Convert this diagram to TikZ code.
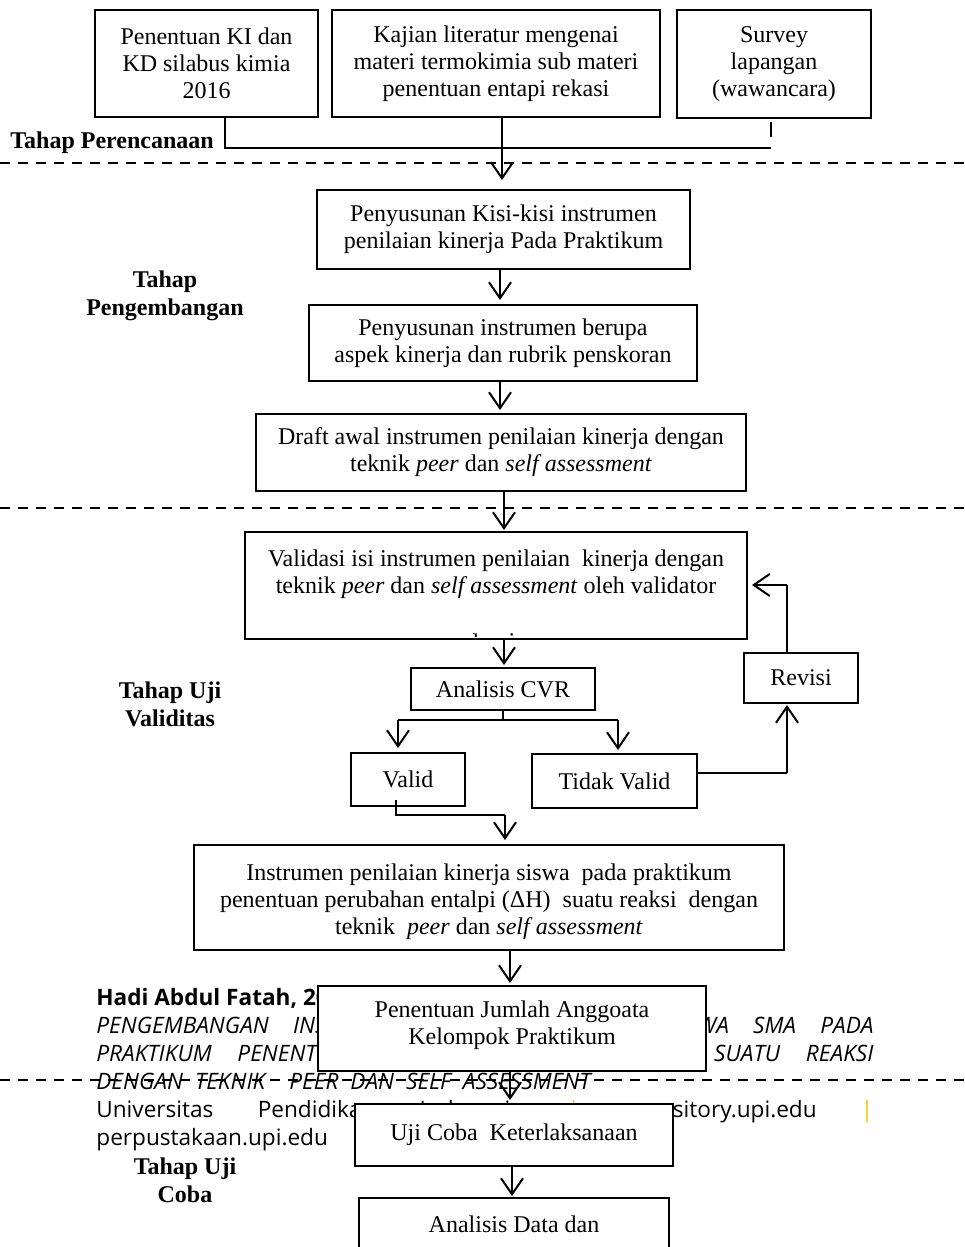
\documentclass[tikz,border=0pt]{standalone}
\usepackage{fontspec}
\setmainfont{Liberation Serif}
\newfontfamily\ftr{Open Sans}
\usetikzlibrary{arrows.meta,calc}
\definecolor{gold}{RGB}{255,192,0}
\newcommand\bx[7]{%
  \node[box,#6,minimum width={(#4-#2)*0.5pt},minimum height={(#5-#3)*0.5pt}] (#1) at ({(#2+#4)/2},{(#3+#5)/2}) {#7};}
\tikzset{
  box/.style={draw,line width=1pt,fill=white,inner sep=0pt,align=center,font=\fontsize{12}{13.5}\selectfont},
  txt/.style={inner sep=0pt,align=center,font=\fontsize{12}{13.5}\selectfont},
  lbl/.style={inner sep=0pt,align=center,font=\fontsize{12}{14}\selectfont\bfseries},
  conn/.style={line width=1pt},
  arr/.style={line width=1pt,-{Straight Barb[length=8pt,width=11pt,line width=1pt]}},
  sep/.style={line width=1pt,dash pattern=on 5pt off 4pt},
  foot/.style={inner sep=0pt,anchor=base west,font=\ftr\fontsize{11.3}{14}\selectfont}
}
\begin{document}
\begin{tikzpicture}[x=0.5pt,y=-0.5pt]
\useasboundingbox (0,0) rectangle (964,1247);
\fill[white] (0,0) rectangle (964,1247);

% footer text (drawn first, covered by boxes)
\node[foot] (f1) at (96,1005) {\bfseries Hadi Abdul Fatah, 2017};
\node[foot] (f2) at (96,1033) {\makebox[388.5pt][s]{\itshape PENGEMBANGAN INSTRUMEN PENILAIAN KINERJA SISWA SMA PADA}};
\node[foot] (f3) at (96,1061) {\makebox[388.5pt][s]{\itshape PRAKTIKUM PENENTUAN PERUBAHAN ENTALPI ($\Delta$H) SUATU REAKSI}};
\node[foot] (f4) at (96,1089) {\makebox[247pt][s]{\itshape DENGAN TEKNIK \ PEER DAN SELF ASSESSMENT}};
\node[foot] (f5) at (96,1117) {\makebox[388.5pt][s]{Universitas Pendidikan Indonesia {\color{gold}|} repository.upi.edu {\color{gold}|}}};
\node[foot] (f6) at (96,1145) {perpustakaan.upi.edu};

% dashed separators
\coordinate (s1a) at (0,163); \coordinate (s1b) at (964,163);
\coordinate (s2a) at (0,508); \coordinate (s2b) at (964,508);
\coordinate (s3a) at (0,1080); \coordinate (s3b) at (964,1080);
\draw[sep] (s1a) -- (s1b);
\draw[sep] (s2a) -- (s2b);
\draw[sep] (s3a) -- (s3b);

% stage labels
\node[lbl,anchor=west] (t1) at (10,143) {Tahap Perencanaan};
\node[lbl] (t2) at (165,296) {Tahap\\Pengembangan};
\node[lbl] (t3) at (170,704.5) {Tahap Uji\\Validitas};
\node[lbl] (t4) at (185,1180) {Tahap Uji\\Coba};

% boxes
\bx{A}{95}{10}{318}{117}{}{Penentuan KI dan\\KD silabus kimia\\2016}
\bx{B}{332}{10}{660}{117}{}{Kajian literatur mengenai\\materi termokimia sub materi\\penentuan entapi rekasi}
\bx{C}{677}{10}{871}{118}{}{Survey\\lapangan\\(wawancara)}
\bx{D}{317}{190}{690}{269}{}{Penyusunan Kisi-kisi instrumen\\penilaian kinerja Pada Praktikum}
\bx{E}{309}{305}{697}{381}{}{Penyusunan instrumen berupa\\aspek kinerja dan rubrik penskoran}
\bx{F}{256}{414}{746}{491}{}{Draft awal instrumen penilaian kinerja dengan\\teknik \textit{peer} dan \textit{self assessment}}
\bx{G}{245}{532}{747}{639}{}{}
\node[txt] (Gt) at (496,574) {Validasi isi instrumen penilaian\ \ kinerja dengan\\teknik \textit{peer} dan \textit{self assessment} oleh validator};
\begin{scope}
\clip (250,600) rectangle (740,636);
\node[txt] (Gf1) at (476,642) {l};
\node[txt] (Gf2) at (512,642) {i};
\end{scope}
\bx{H}{411}{668}{595}{710}{}{Analisis CVR}
\bx{V}{351}{753}{465}{806}{}{Valid}
\bx{TV}{532}{754}{697}{808}{}{Tidak Valid}
\bx{R}{744}{653}{858}{703}{}{Revisi}
\bx{I}{194}{845}{784}{950}{}{}
\node[txt] (It) at (489,901.5) {Instrumen penilaian kinerja siswa\ \ pada praktikum\\penentuan perubahan entalpi (ΔH)\ \ suatu reaksi\ \ dengan\\teknik\ \ \textit{peer} dan \textit{self assessment}};
\bx{J}{318}{986}{706}{1071}{}{}
\node[txt] (Jt) at (512,1025) {Penentuan Jumlah Anggoata\\Kelompok Praktikum};
\bx{K}{355}{1104}{673}{1166}{}{Uji Coba\ \ Keterlaksanaan}
\bx{L}{359}{1198}{669}{1290}{}{}
\node[txt] (Lt) at (514,1224) {Analisis Data dan};

% connectors: planning stage
\coordinate (pa) at (225,148);
\coordinate (pc) at (771,148);
\coordinate (c1) at (771,122);
\coordinate (c2) at (771,137);
\coordinate (bArr) at (502,180);
\draw[conn] (A.south -| pa) -- (pa) -- (pc);
\draw[conn] (c1) -- (c2);
\draw[arr] (B.south -| bArr) -- (bArr);

% development stage
\coordinate (dE) at (500,300);
\coordinate (eF) at (500,410);
\coordinate (fG) at (504,530);
\draw[arr] (D.south -| dE) -- (dE);
\draw[arr] (E.south -| eF) -- (eF);
\draw[arr] (F.south -| fG) -- (fG);

% validity stage
\coordinate (gH) at (504,665);
\draw[arr] (G.south -| gH) -- (gH);
\coordinate (hj) at (503,720);
\coordinate (hl) at (398,720);
\coordinate (hr) at (618,720);
\coordinate (hlA) at (398,748);
\coordinate (hrA) at (618,750);
\draw[conn] (H.south -| hj) -- (hj);
\draw[conn] (hl) -- (hr);
\draw[arr] (hl) -- (hlA);
\draw[arr] (hr) -- (hrA);
\coordinate (tr) at (787,773);
\coordinate (rA) at (787,705);
\draw[conn] (TV.east |- tr) -- (tr);
\draw[arr] (tr) -- (rA);
\coordinate (ru) at (787,585);
\coordinate (gA) at (752,585);
\draw[conn] (R.north -| ru) -- (ru);
\draw[arr] (ru) -- (gA);
\coordinate (v0) at (396,800);
\coordinate (v1) at (396,815);
\coordinate (v2) at (505,815);
\coordinate (vA) at (505,840);
\draw[conn] (v0) -- (v1) -- (v2);
\draw[arr] (v2) -- (vA);

% trial stage
\coordinate (iJ) at (510,983);
\coordinate (jK) at (510,1100);
\coordinate (kL) at (512,1196);
\draw[arr] (I.south -| iJ) -- (iJ);
\draw[arr] (J.south -| jK) -- (jK);
\draw[arr] (K.south -| kL) -- (kL);
\end{tikzpicture}
\end{document}
